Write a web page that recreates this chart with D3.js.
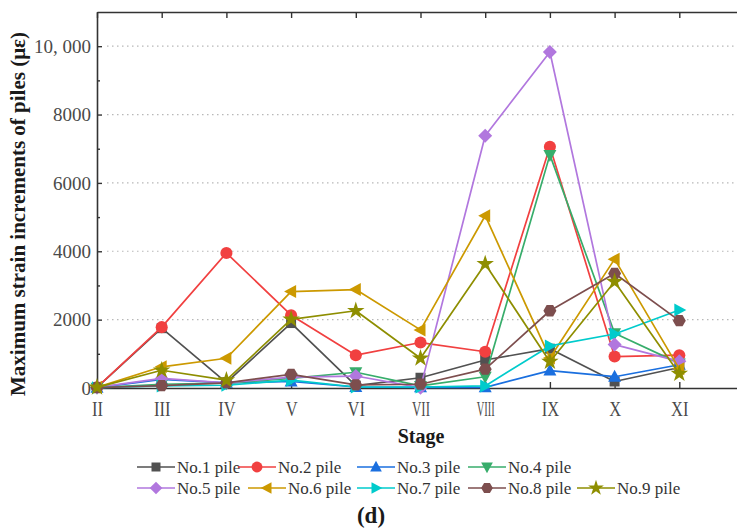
<!DOCTYPE html>
<html>
<head>
<meta charset="utf-8">
<script src="https://cdn.jsdelivr.net/npm/d3@7"></script>
<style>
  html, body { margin: 0; padding: 0; background: #fff; }
  svg { display: block; font-family: "Liberation Serif", "Times New Roman", serif; }
</style>
</head>
<body>
<svg id="chart" width="737" height="532"></svg>
<script>
// Construction stages (x axis) and tick labels
const stages = ["II", "III", "IV", "V", "VI", "VII", "VIII", "IX", "X", "XI"];
const yMajorTicks = [0, 2000, 4000, 6000, 8000, 10000];
const yTickLabels = ["0", "2000", "4000", "6000", "8000", "10, 000"];
const yMinorTicks = [1000, 3000, 5000, 7000, 9000];

// Maximum strain increments (με) of each pile at each stage
const pile1 = [20, 1750, 160, 1900, 70, 300, 820, 1150, 190, 600];
const pile2 = [20, 1780, 3950, 2130, 960, 1330, 1060, 7060, 920, 960];
const pile3 = [10, 250, 150, 190, 30, 20, 20, 510, 330, 680];
const pile4 = [10, 110, 140, 280, 460, 60, 330, 6820, 1600, 720];
const pile5 = [20, 280, 150, 320, 350, 10, 7380, 9830, 1270, 780];
const pile6 = [20, 620, 870, 2820, 2880, 1700, 5040, 880, 3770, 560];
const pile7 = [10, 60, 80, 230, 30, 30, 60, 1230, 1580, 2280];
const pile8 = [10, 70, 150, 400, 90, 110, 550, 2260, 3350, 1970];
const pile9 = [20, 520, 230, 2010, 2260, 870, 3630, 770, 3110, 420];

const pileNames = ["No.1 pile", "No.2 pile", "No.3 pile", "No.4 pile", "No.5 pile",
                   "No.6 pile", "No.7 pile", "No.8 pile", "No.9 pile"];
const pileValues = [pile1, pile2, pile3, pile4, pile5, pile6, pile7, pile8, pile9];
const pileColors = ["#515151", "#F14040", "#1A6FDF", "#37AD6B", "#B177DE",
                    "#CC9900", "#00CBCC", "#7D4E4E", "#8E8E00"];
const pileShapes = ["square", "circle", "triUp", "triDown", "diamond",
                    "triLeft", "triRight", "hexagon", "star"];

const serif = "Liberation Serif, Times New Roman, serif";
const svg = d3.select("#chart");
const plot = { left: 97, right: 744, top: 12, bottom: 388 };

const x = d3.scaleLinear().domain([0, 10]).range([plot.left, plot.right]);
const y = d3.scaleLinear().domain([0, 11000]).range([plot.bottom, plot.top]);

// Marker outlines centred on the origin
function markerPath(shape, s) {
  const poly = pts => "M" + pts.map(p => p.map(v => (v * s).toFixed(2)).join(",")).join("L") + "Z";
  switch (shape) {
    case "square": return poly([[-5, -5], [5, -5], [5, 5], [-5, 5]]);
    case "circle": return d3.symbol(d3.symbolCircle, 115 * s * s)();
    case "triUp": return poly([[0, -7], [6.5, 5], [-6.5, 5]]);
    case "triDown": return poly([[0, 7], [6.5, -5], [-6.5, -5]]);
    case "diamond": return poly([[0, -7], [7, 0], [0, 7], [-7, 0]]);
    case "triLeft": return poly([[-7, 0], [5, -6.5], [5, 6.5]]);
    case "triRight": return poly([[7, 0], [-5, -6.5], [-5, 6.5]]);
    case "hexagon": return poly(d3.range(6).map(i => [6.5 * Math.cos(i * Math.PI / 3), 6.5 * Math.sin(i * Math.PI / 3)]));
    case "star": return d3.symbol(d3.symbolStar, 95 * s * s)();
  }
}

// Dotted horizontal grid
svg.append("g")
  .selectAll("line")
  .data(yMajorTicks.filter(v => v > 0))
  .join("line")
  .attr("x1", plot.left + 10).attr("x2", plot.right)
  .attr("y1", d => y(d)).attr("y2", d => y(d))
  .attr("stroke", "#b8b8b8").attr("stroke-width", 1.2)
  .attr("stroke-dasharray", "1.5,3.5");

// Left axis (inward ticks)
const yAxis = svg.append("g")
  .attr("transform", `translate(${plot.left},0)`)
  .call(d3.axisLeft(y).tickValues(yMajorTicks)
    .tickFormat((d, i) => yTickLabels[i])
    .tickSizeInner(-5).tickSizeOuter(0).tickPadding(6));
yAxis.selectAll("text").attr("font-size", 19).attr("fill", "#4a4a4a")
  .attr("font-family", serif);
svg.append("g")
  .attr("transform", `translate(${plot.left},0)`)
  .call(d3.axisLeft(y).tickValues(yMinorTicks).tickFormat("")
    .tickSizeInner(-3).tickSizeOuter(0))
  .call(g => g.select(".domain").remove());

// Bottom axis (inward ticks)
const xAxis = svg.append("g")
  .attr("transform", `translate(0,${plot.bottom})`)
  .call(d3.axisBottom(x).tickValues(d3.range(stages.length))
    .tickFormat(i => stages[i])
    .tickSizeInner(-6).tickSizeOuter(0).tickPadding(14));
xAxis.selectAll("text").attr("font-size", 22).attr("fill", "#4a4a4a")
  .attr("font-family", serif)
  .attr("dy", "0.62em")
  .each(function () {
    const w = this.getComputedTextLength();
    const k = Math.min(0.75, 18 / w);
    d3.select(this).attr("transform", `scale(${k},1)`);
  });

// Top axis (inward ticks, no labels)
svg.append("g")
  .attr("transform", `translate(0,${plot.top})`)
  .call(d3.axisTop(x).tickValues(d3.range(stages.length)).tickFormat("")
    .tickSizeInner(-6).tickSizeOuter(0));

svg.selectAll(".domain").attr("stroke", "#333").attr("stroke-width", 1.6);
svg.selectAll(".tick line").attr("stroke", "#333").attr("stroke-width", 1.4);

// Pile series: lines then markers
const line = d3.line().x((d, i) => x(i)).y(d => y(d));
pileValues.forEach((vals, k) => {
  const g = svg.append("g");
  g.append("path")
    .attr("d", line(vals))
    .attr("fill", "none")
    .attr("stroke", pileColors[k])
    .attr("stroke-width", 1.7)
    .attr("stroke-linejoin", "round");
  g.selectAll("path.m")
    .data(vals)
    .join("path")
    .attr("class", "m")
    .attr("d", markerPath(pileShapes[k], 1))
    .attr("transform", (d, i) => `translate(${x(i)},${y(d)})`)
    .attr("fill", pileColors[k]);
});

// Axis titles
svg.append("text")
  .attr("transform", "translate(25,214) rotate(-90)")
  .attr("text-anchor", "middle")
  .attr("font-family", serif)
  .attr("font-size", 21).attr("font-weight", "bold").attr("fill", "#1a1a1a")
  .text("Maximum strain increments of piles (με)");
svg.append("text")
  .attr("x", 421).attr("y", 443)
  .attr("text-anchor", "middle")
  .attr("font-family", serif)
  .attr("font-size", 20).attr("font-weight", "bold").attr("fill", "#1a1a1a")
  .text("Stage");

// Legend: two rows
const legendCols = [137, 238, 357, 468, 577];
const legendRows = [467, 488];
const legendLayout = [[0, 0], [0, 1], [0, 2], [0, 3], [1, 0], [1, 1], [1, 2], [1, 3], [1, 4]];
const legend = svg.append("g");
pileNames.forEach((name, k) => {
  const [r, c] = legendLayout[k];
  const lx = legendCols[c] + (r === 1 && c === 1 ? 10 : 0);
  const ly = legendRows[r];
  const item = legend.append("g");
  item.append("line")
    .attr("x1", lx).attr("x2", lx + 38)
    .attr("y1", ly).attr("y2", ly)
    .attr("stroke", pileColors[k]).attr("stroke-width", 1.7);
  item.append("path")
    .attr("d", markerPath(pileShapes[k], 0.9))
    .attr("transform", `translate(${lx + 19},${ly})`)
    .attr("fill", pileColors[k]);
  item.append("text")
    .attr("x", lx + 40).attr("y", ly + 5.5)
    .attr("font-family", serif)
    .attr("font-size", 17).attr("fill", "#333")
    .text(name);
});

// Panel label
svg.append("text")
  .attr("x", 371).attr("y", 523)
  .attr("text-anchor", "middle")
  .attr("font-family", serif)
  .attr("font-size", 23).attr("font-weight", "bold").attr("fill", "#1a1a1a")
  .text("(d)");
</script>
</body>
</html>
